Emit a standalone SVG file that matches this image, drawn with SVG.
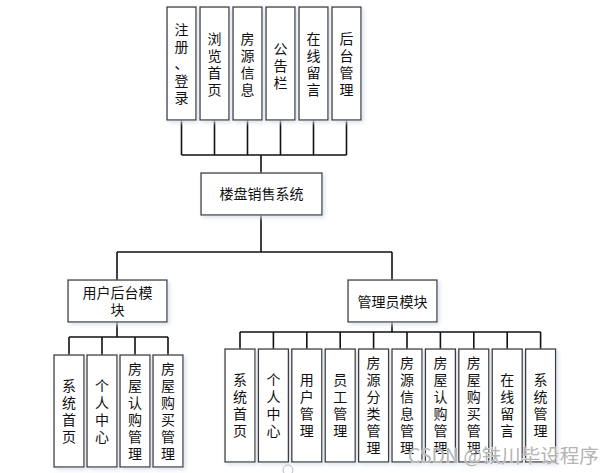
<svg xmlns="http://www.w3.org/2000/svg" width="614" height="473" viewBox="0 0 614 473">
<style>
.box{fill:#fff;stroke:#3a3a3a;stroke-width:1.3;filter:url(#sh)}
.t{font-family:"Noto Sans CJK SC","Noto Sans",sans-serif;font-size:14px;fill:#111;text-anchor:middle}
.ln{fill:none;stroke:#111;stroke-width:1.6}
.wm{font-family:"Noto Sans CJK SC","Liberation Sans",sans-serif;font-size:19.5px;fill:#b4b4b4;stroke:#fff;stroke-width:0.6;paint-order:stroke}
</style>
<defs>
<filter id="sh" x="-20%" y="-20%" width="140%" height="140%">
<feDropShadow dx="2" dy="2" stdDeviation="2" flood-color="#d6deea" flood-opacity="0.9"/>
</filter>
</defs>
<rect width="614" height="473" fill="#fff"/>
<g id="connectors" class="ln">
<path d="M181.5 120V155M214.5 120V155M247.5 120V155M280.5 120V155M313.5 120V155M346.5 120V155M181.5 155H346.5M261 155V173"/>
<path d="M261 215V252M117 252H392M117 252V280M392 252V280"/>
<path d="M117 322V337M69 337H168M69 337V355M102 337V355M135 337V355M168 337V355"/>
<path d="M392 322V332M240 332H540.6M240 332V349M273.4 332V349M306.8 332V349M340.2 332V349M373.6 332V349M407 332V349M440.4 332V349M473.8 332V349M507.2 332V349M540.6 332V349"/>
</g>
<g id="n-reg"><rect class="box" x="167" y="7" width="29" height="113"/><text class="t"><tspan x="181.5" y="35">注</tspan><tspan x="181.5" y="52">册</tspan><tspan x="181.5" y="69">、</tspan><tspan x="181.5" y="86">登</tspan><tspan x="181.5" y="103">录</tspan></text></g>
<g id="n-browse"><rect class="box" x="200" y="7" width="29" height="113"/><text class="t"><tspan x="214.5" y="43.5">浏</tspan><tspan x="214.5" y="60.5">览</tspan><tspan x="214.5" y="77.5">首</tspan><tspan x="214.5" y="94.5">页</tspan></text></g>
<g id="n-house"><rect class="box" x="233" y="7" width="29" height="113"/><text class="t"><tspan x="247.5" y="43.5">房</tspan><tspan x="247.5" y="60.5">源</tspan><tspan x="247.5" y="77.5">信</tspan><tspan x="247.5" y="94.5">息</tspan></text></g>
<g id="n-notice"><rect class="box" x="266" y="7" width="29" height="113"/><text class="t"><tspan x="280.5" y="54">公</tspan><tspan x="280.5" y="71">告</tspan><tspan x="280.5" y="88">栏</tspan></text></g>
<g id="n-msg"><rect class="box" x="299" y="7" width="29" height="113"/><text class="t"><tspan x="313.5" y="43.5">在</tspan><tspan x="313.5" y="60.5">线</tspan><tspan x="313.5" y="77.5">留</tspan><tspan x="313.5" y="94.5">言</tspan></text></g>
<g id="n-admin-top"><rect class="box" x="332" y="7" width="29" height="113"/><text class="t"><tspan x="346.5" y="43.5">后</tspan><tspan x="346.5" y="60.5">台</tspan><tspan x="346.5" y="77.5">管</tspan><tspan x="346.5" y="94.5">理</tspan></text></g>
<g id="n-main"><rect class="box" x="201" y="173" width="121" height="42"/><text class="t" x="261.5" y="199">楼盘销售系统</text></g>
<g id="n-user"><rect class="box" x="68" y="280" width="99" height="42"/><text class="t"><tspan x="117.5" y="298">用户后台模</tspan><tspan x="117.5" y="315">块</tspan></text></g>
<g id="n-adm"><rect class="box" x="348" y="280" width="89" height="42"/><text class="t" x="392.5" y="307">管理员模块</text></g>
<g id="u1"><rect class="box" x="54" y="355" width="30" height="112"/><text class="t"><tspan x="69" y="390.5">系</tspan><tspan x="69" y="407.5">统</tspan><tspan x="69" y="424.5">首</tspan><tspan x="69" y="441.5">页</tspan></text></g>
<g id="u2"><rect class="box" x="87" y="355" width="30" height="112"/><text class="t"><tspan x="102" y="390.5">个</tspan><tspan x="102" y="407.5">人</tspan><tspan x="102" y="424.5">中</tspan><tspan x="102" y="441.5">心</tspan></text></g>
<g id="u3"><rect class="box" x="120" y="355" width="30" height="112"/><text class="t"><tspan x="135" y="373.5">房</tspan><tspan x="135" y="390.5">屋</tspan><tspan x="135" y="407.5">认</tspan><tspan x="135" y="424.5">购</tspan><tspan x="135" y="441.5">管</tspan><tspan x="135" y="458.5">理</tspan></text></g>
<g id="u4"><rect class="box" x="153" y="355" width="30" height="112"/><text class="t"><tspan x="168" y="373.5">房</tspan><tspan x="168" y="390.5">屋</tspan><tspan x="168" y="407.5">购</tspan><tspan x="168" y="424.5">买</tspan><tspan x="168" y="441.5">管</tspan><tspan x="168" y="458.5">理</tspan></text></g>
<g id="a1"><rect class="box" x="225" y="349" width="30" height="113"/><text class="t"><tspan x="240" y="385">系</tspan><tspan x="240" y="402">统</tspan><tspan x="240" y="419">首</tspan><tspan x="240" y="436">页</tspan></text></g>
<g id="a2"><rect class="box" x="258.4" y="349" width="30" height="113"/><text class="t"><tspan x="273.4" y="385">个</tspan><tspan x="273.4" y="402">人</tspan><tspan x="273.4" y="419">中</tspan><tspan x="273.4" y="436">心</tspan></text></g>
<g id="a3"><rect class="box" x="291.8" y="349" width="30" height="113"/><text class="t"><tspan x="306.8" y="385">用</tspan><tspan x="306.8" y="402">户</tspan><tspan x="306.8" y="419">管</tspan><tspan x="306.8" y="436">理</tspan></text></g>
<g id="a4"><rect class="box" x="325.2" y="349" width="30" height="113"/><text class="t"><tspan x="340.2" y="385">员</tspan><tspan x="340.2" y="402">工</tspan><tspan x="340.2" y="419">管</tspan><tspan x="340.2" y="436">理</tspan></text></g>
<g id="a5"><rect class="box" x="358.6" y="349" width="30" height="113"/><text class="t"><tspan x="373.6" y="368">房</tspan><tspan x="373.6" y="385">源</tspan><tspan x="373.6" y="402">分</tspan><tspan x="373.6" y="419">类</tspan><tspan x="373.6" y="436">管</tspan><tspan x="373.6" y="453">理</tspan></text></g>
<g id="a6"><rect class="box" x="392" y="349" width="30" height="113"/><text class="t"><tspan x="407" y="368">房</tspan><tspan x="407" y="385">源</tspan><tspan x="407" y="402">信</tspan><tspan x="407" y="419">息</tspan><tspan x="407" y="436">管</tspan><tspan x="407" y="453">理</tspan></text></g>
<g id="a7"><rect class="box" x="425.4" y="349" width="30" height="113"/><text class="t"><tspan x="440.4" y="368">房</tspan><tspan x="440.4" y="385">屋</tspan><tspan x="440.4" y="402">认</tspan><tspan x="440.4" y="419">购</tspan><tspan x="440.4" y="436">管</tspan><tspan x="440.4" y="453">理</tspan></text></g>
<g id="a8"><rect class="box" x="458.8" y="349" width="30" height="113"/><text class="t"><tspan x="473.8" y="368">房</tspan><tspan x="473.8" y="385">屋</tspan><tspan x="473.8" y="402">购</tspan><tspan x="473.8" y="419">买</tspan><tspan x="473.8" y="436">管</tspan><tspan x="473.8" y="453">理</tspan></text></g>
<g id="a9"><rect class="box" x="492.2" y="349" width="30" height="113"/><text class="t"><tspan x="507.2" y="385">在</tspan><tspan x="507.2" y="402">线</tspan><tspan x="507.2" y="419">留</tspan><tspan x="507.2" y="436">言</tspan></text></g>
<g id="a10"><rect class="box" x="525.6" y="349" width="30" height="113"/><text class="t"><tspan x="540.6" y="385">系</tspan><tspan x="540.6" y="402">统</tspan><tspan x="540.6" y="419">管</tspan><tspan x="540.6" y="436">理</tspan></text></g>
<circle cx="288" cy="470" r="5" fill="none" stroke="#bbb" stroke-width="1"/>
<text class="wm" x="408" y="463">CSDN @铁川毕设程序</text>
</svg>
